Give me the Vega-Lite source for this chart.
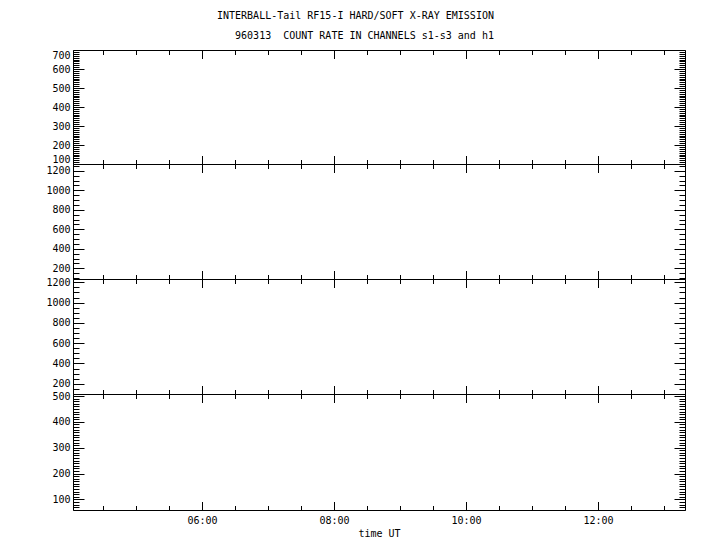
{
  "$schema": "https://vega.github.io/schema/vega-lite/v6.json",
  "padding": {"left": 45, "top": 10, "right": 30, "bottom": 5},
  "background": "white",
  "title": {
    "text": "INTERBALL-Tail RF15-I HARD/SOFT X-RAY EMISSION",
    "subtitle": "\u200b\u00a0\u00a0\u00a0960313\u00a0\u00a0COUNT RATE IN CHANNELS s1-s3 and h1",
    "anchor": "start",
    "frame": "group",
    "dx": 144,
    "font": "DejaVu Sans Mono",
    "fontSize": 10,
    "fontWeight": "normal",
    "color": "black",
    "subtitleFont": "DejaVu Sans Mono",
    "subtitleFontSize": 10,
    "subtitleColor": "black",
    "subtitlePadding": 10,
    "offset": 9
  },
  "data": {"values": []},
  "spacing": 0,
  "bounds": "flush",
  "vconcat": [
    {
      "width": 612, "height": 114,
      "layer": [
        {"mark": "line", "encoding": {
          "x": {"field": "t", "type": "quantitative", "scale": {"domain": [4.045, 13.318], "nice": false, "zero": false},
                "axis": {"orient": "bottom", "values": [4.5,5,5.5,6,6.5,7,7.5,8,8.5,9,9.5,10,10.5,11,11.5,12,12.5,13],
                         "tickSize": {"condition": {"test": "datum.value % 2 === 0", "value": -8.5}, "value": -4.5},
                         "labels": false, "title": null}},
          "y": {"field": "v", "type": "quantitative", "scale": {"domain": [100, 700], "nice": false, "zero": false},
                "axis": {"orient": "left", "values": [100,110,120,130,140,150,160,170,180,190,200,210,220,230,240,250,260,270,280,290,300,310,320,330,340,350,360,370,380,390,400,410,420,430,440,450,460,470,480,490,500,510,520,530,540,550,560,570,580,590,600,610,620,630,640,650,660,670,680,690,700],
                         "tickSize": {"condition": {"test": "datum.value % 100 === 0", "value": -11}, "value": -6},
                         "labelExpr": "datum.value % 100 === 0 ? '' + datum.value : ''", "labelPadding": 14, "labelFlush": true, "title": null}}
        }},
        {"mark": "line", "encoding": {
          "x": {"field": "t", "type": "quantitative",
                "axis": {"orient": "top", "values": [4.5,5,5.5,6,6.5,7,7.5,8,8.5,9,9.5,10,10.5,11,11.5,12,12.5,13],
                         "tickSize": {"condition": {"test": "datum.value % 2 === 0", "value": -8.5}, "value": -4.5},
                         "labels": false, "title": null}},
          "y": {"field": "v", "type": "quantitative",
                "axis": {"orient": "right", "values": [100,110,120,130,140,150,160,170,180,190,200,210,220,230,240,250,260,270,280,290,300,310,320,330,340,350,360,370,380,390,400,410,420,430,440,450,460,470,480,490,500,510,520,530,540,550,560,570,580,590,600,610,620,630,640,650,660,670,680,690,700],
                         "tickSize": {"condition": {"test": "datum.value % 100 === 0", "value": -11}, "value": -6},
                         "labels": false, "title": null}}
        }}
      ],
      "resolve": {"axis": {"x": "independent", "y": "independent"}}
    },
    {
      "width": 612, "height": 115,
      "layer": [
        {"mark": "line", "encoding": {
          "x": {"field": "t", "type": "quantitative", "scale": {"domain": [4.045, 13.318], "nice": false, "zero": false},
                "axis": {"orient": "bottom", "values": [4.5,5,5.5,6,6.5,7,7.5,8,8.5,9,9.5,10,10.5,11,11.5,12,12.5,13],
                         "tickSize": {"condition": {"test": "datum.value % 2 === 0", "value": -8.5}, "value": -4.5},
                         "labels": false, "title": null}},
          "y": {"field": "v", "type": "quantitative", "scale": {"domain": [91, 1270], "nice": false, "zero": false},
                "axis": {"orient": "left", "values": [100,150,200,250,300,350,400,450,500,550,600,650,700,750,800,850,900,950,1000,1050,1100,1150,1200,1250],
                         "tickSize": {"condition": {"test": "datum.value % 200 === 0", "value": -11}, "value": -6},
                         "labelExpr": "datum.value % 200 === 0 ? '' + datum.value : ''", "labelPadding": 14, "labelFlush": true, "title": null}}
        }},
        {"mark": "line", "encoding": {
          "x": {"field": "t", "type": "quantitative",
                "axis": {"orient": "top", "values": [4.5,5,5.5,6,6.5,7,7.5,8,8.5,9,9.5,10,10.5,11,11.5,12,12.5,13],
                         "tickSize": {"condition": {"test": "datum.value % 2 === 0", "value": -8.5}, "value": -4.5},
                         "labels": false, "title": null}},
          "y": {"field": "v", "type": "quantitative",
                "axis": {"orient": "right", "values": [100,150,200,250,300,350,400,450,500,550,600,650,700,750,800,850,900,950,1000,1050,1100,1150,1200,1250],
                         "tickSize": {"condition": {"test": "datum.value % 200 === 0", "value": -11}, "value": -6},
                         "labels": false, "title": null}}
        }}
      ],
      "resolve": {"axis": {"x": "independent", "y": "independent"}}
    },
    {
      "width": 612, "height": 115,
      "layer": [
        {"mark": "line", "encoding": {
          "x": {"field": "t", "type": "quantitative", "scale": {"domain": [4.045, 13.318], "nice": false, "zero": false},
                "axis": {"orient": "bottom", "values": [4.5,5,5.5,6,6.5,7,7.5,8,8.5,9,9.5,10,10.5,11,11.5,12,12.5,13],
                         "tickSize": {"condition": {"test": "datum.value % 2 === 0", "value": -8.5}, "value": -4.5},
                         "labels": false, "title": null}},
          "y": {"field": "v", "type": "quantitative", "scale": {"domain": [99, 1233], "nice": false, "zero": false},
                "axis": {"orient": "left", "values": [100,150,200,250,300,350,400,450,500,550,600,650,700,750,800,850,900,950,1000,1050,1100,1150,1200],
                         "tickSize": {"condition": {"test": "datum.value % 200 === 0", "value": -11}, "value": -6},
                         "labelExpr": "datum.value % 200 === 0 ? '' + datum.value : ''", "labelPadding": 14, "labelFlush": true, "title": null}}
        }},
        {"mark": "line", "encoding": {
          "x": {"field": "t", "type": "quantitative",
                "axis": {"orient": "top", "values": [4.5,5,5.5,6,6.5,7,7.5,8,8.5,9,9.5,10,10.5,11,11.5,12,12.5,13],
                         "tickSize": {"condition": {"test": "datum.value % 2 === 0", "value": -8.5}, "value": -4.5},
                         "labels": false, "title": null}},
          "y": {"field": "v", "type": "quantitative",
                "axis": {"orient": "right", "values": [100,150,200,250,300,350,400,450,500,550,600,650,700,750,800,850,900,950,1000,1050,1100,1150,1200],
                         "tickSize": {"condition": {"test": "datum.value % 200 === 0", "value": -11}, "value": -6},
                         "labels": false, "title": null}}
        }}
      ],
      "resolve": {"axis": {"x": "independent", "y": "independent"}}
    },
    {
      "width": 612, "height": 116,
      "layer": [
        {"mark": "line", "encoding": {
          "x": {"field": "t", "type": "quantitative", "scale": {"domain": [4.045, 13.318], "nice": false, "zero": false},
                "axis": {"orient": "bottom", "values": [4.5,5,5.5,6,6.5,7,7.5,8,8.5,9,9.5,10,10.5,11,11.5,12,12.5,13],
                         "tickSize": {"condition": {"test": "datum.value % 2 === 0", "value": -8.5}, "value": -4.5},
                         "labelExpr": "datum.value % 2 === 0 ? (datum.value < 10 ? '0' : '') + datum.value + ':00' : ''",
                         "labelPadding": 13.5, "labelFlush": false, "title": "time UT", "titlePadding": 3}},
          "y": {"field": "v", "type": "quantitative", "scale": {"domain": [59, 508], "nice": false, "zero": false},
                "axis": {"orient": "left", "values": [60,70,80,90,100,110,120,130,140,150,160,170,180,190,200,210,220,230,240,250,260,270,280,290,300,310,320,330,340,350,360,370,380,390,400,410,420,430,440,450,460,470,480,490,500],
                         "tickSize": {"condition": {"test": "datum.value % 100 === 0", "value": -11}, "value": -6},
                         "labelExpr": "datum.value % 100 === 0 ? '' + datum.value : ''", "labelPadding": 14, "labelFlush": true, "title": null}}
        }},
        {"mark": "line", "encoding": {
          "x": {"field": "t", "type": "quantitative",
                "axis": {"orient": "top", "values": [4.5,5,5.5,6,6.5,7,7.5,8,8.5,9,9.5,10,10.5,11,11.5,12,12.5,13],
                         "tickSize": {"condition": {"test": "datum.value % 2 === 0", "value": -8.5}, "value": -4.5},
                         "labels": false, "title": null}},
          "y": {"field": "v", "type": "quantitative",
                "axis": {"orient": "right", "values": [60,70,80,90,100,110,120,130,140,150,160,170,180,190,200,210,220,230,240,250,260,270,280,290,300,310,320,330,340,350,360,370,380,390,400,410,420,430,440,450,460,470,480,490,500],
                         "tickSize": {"condition": {"test": "datum.value % 100 === 0", "value": -11}, "value": -6},
                         "labels": false, "title": null}}
        }}
      ],
      "resolve": {"axis": {"x": "independent", "y": "independent"}}
    }
  ],
  "config": {
    "view": {"stroke": null},
    "axis": {
      "grid": false,
      "domainColor": "black",
      "tickColor": "black",
      "labelColor": "black",
      "labelFont": "DejaVu Sans Mono",
      "labelFontSize": 10,
      "titleFont": "DejaVu Sans Mono",
      "titleFontSize": 10,
      "titleFontWeight": "normal",
      "titleColor": "black"
    }
  }
}
